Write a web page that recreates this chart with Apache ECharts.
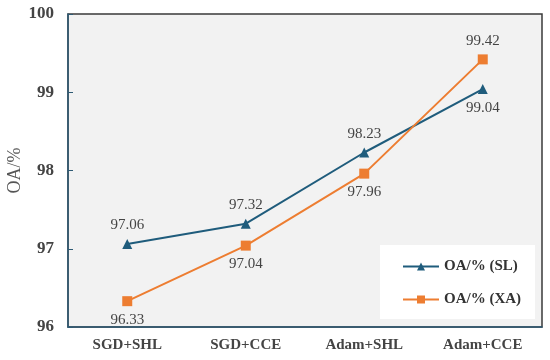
<!DOCTYPE html>
<html><head><meta charset="utf-8">
<script src="https://cdn.jsdelivr.net/npm/echarts@6/dist/echarts.min.js"></script>
<style>html,body{margin:0;padding:0;background:#fff}#c{width:550px;height:360px}</style>
</head><body><div id="c"></div>
<script>
const categories = ['SGD+SHL', 'SGD+CCE', 'Adam+SHL', 'Adam+CCE'];
const slValues = [97.06, 97.32, 98.23, 99.04];
const xaValues = [96.33, 97.04, 97.96, 99.42];
const slLabelPos = ['top', 'top', 'top', 'bottom'];
const xaLabelPos = ['bottom', 'bottom', 'bottom', 'top'];
const yTicks = [96, 97, 98, 99, 100];

const serif = '"Liberation Serif", "Times New Roman", serif';
const chart = echarts.init(document.getElementById('c'));
function mk(vals, pos) {
  return vals.map((v, i) => ({ value: v, label: { position: pos[i] } }));
}
chart.setOption({
  animation: false,
  grid: { left: 68, right: 8, top: 14, bottom: 33, outerBoundsMode: 'none', containLabel: false, show: true, backgroundColor: '#f2f2f2', borderColor: '#3a3a3a', borderWidth: 1.5 },
  xAxis: {
    type: 'category', data: categories, boundaryGap: true,
    axisLine: { lineStyle: { color: '#2e5a74', width: 1.5 } },
    axisTick: { show: false },
    axisLabel: { fontFamily: serif, fontWeight: 'bold', fontSize: 15, color: '#444', margin: 11 }
  },
  yAxis: {
    type: 'value', min: yTicks[0], max: yTicks[yTicks.length - 1], interval: 1,
    name: 'OA/%', nameLocation: 'middle', nameGap: 53, nameRotate: 90, nameMoveOverlap: false,
    nameTextStyle: { fontFamily: serif, fontSize: 18, color: '#555', verticalAlign: 'middle' },
    axisLine: { show: true, lineStyle: { color: '#2e5a74', width: 1.5 } },
    axisTick: { show: true, inside: true, length: 5, lineStyle: { color: '#2e5a74' } },
    splitLine: { show: false },
    axisLabel: { fontFamily: serif, fontWeight: 'bold', fontSize: 17, color: '#444', margin: 14 }
  },
  legend: {
    orient: 'vertical', left: 380, top: 245, width: 150,
    backgroundColor: '#ffffff', padding: [14, 14, 12, 22], itemGap: 18,
    itemWidth: 36, itemHeight: 10,
    textStyle: { fontFamily: serif, fontWeight: 'bold', fontSize: 15, color: '#333' },
    data: ['OA/% (SL)', 'OA/% (XA)']
  },
  series: [
    {
      name: 'OA/% (SL)', type: 'line', data: mk(slValues, slLabelPos),
      symbol: 'triangle', symbolSize: 10,
      lineStyle: { color: '#1f5c7c', width: 2 }, itemStyle: { color: '#1f5c7c' },
      label: { show: true, fontFamily: serif, fontSize: 15, color: '#444', distance: 6 }
    },
    {
      name: 'OA/% (XA)', type: 'line', data: mk(xaValues, xaLabelPos),
      symbol: 'rect', symbolSize: 10,
      lineStyle: { color: '#ed7d31', width: 2 }, itemStyle: { color: '#ed7d31' },
      label: { show: true, fontFamily: serif, fontSize: 15, color: '#444', distance: 6 }
    }
  ]
});
</script></body></html>
